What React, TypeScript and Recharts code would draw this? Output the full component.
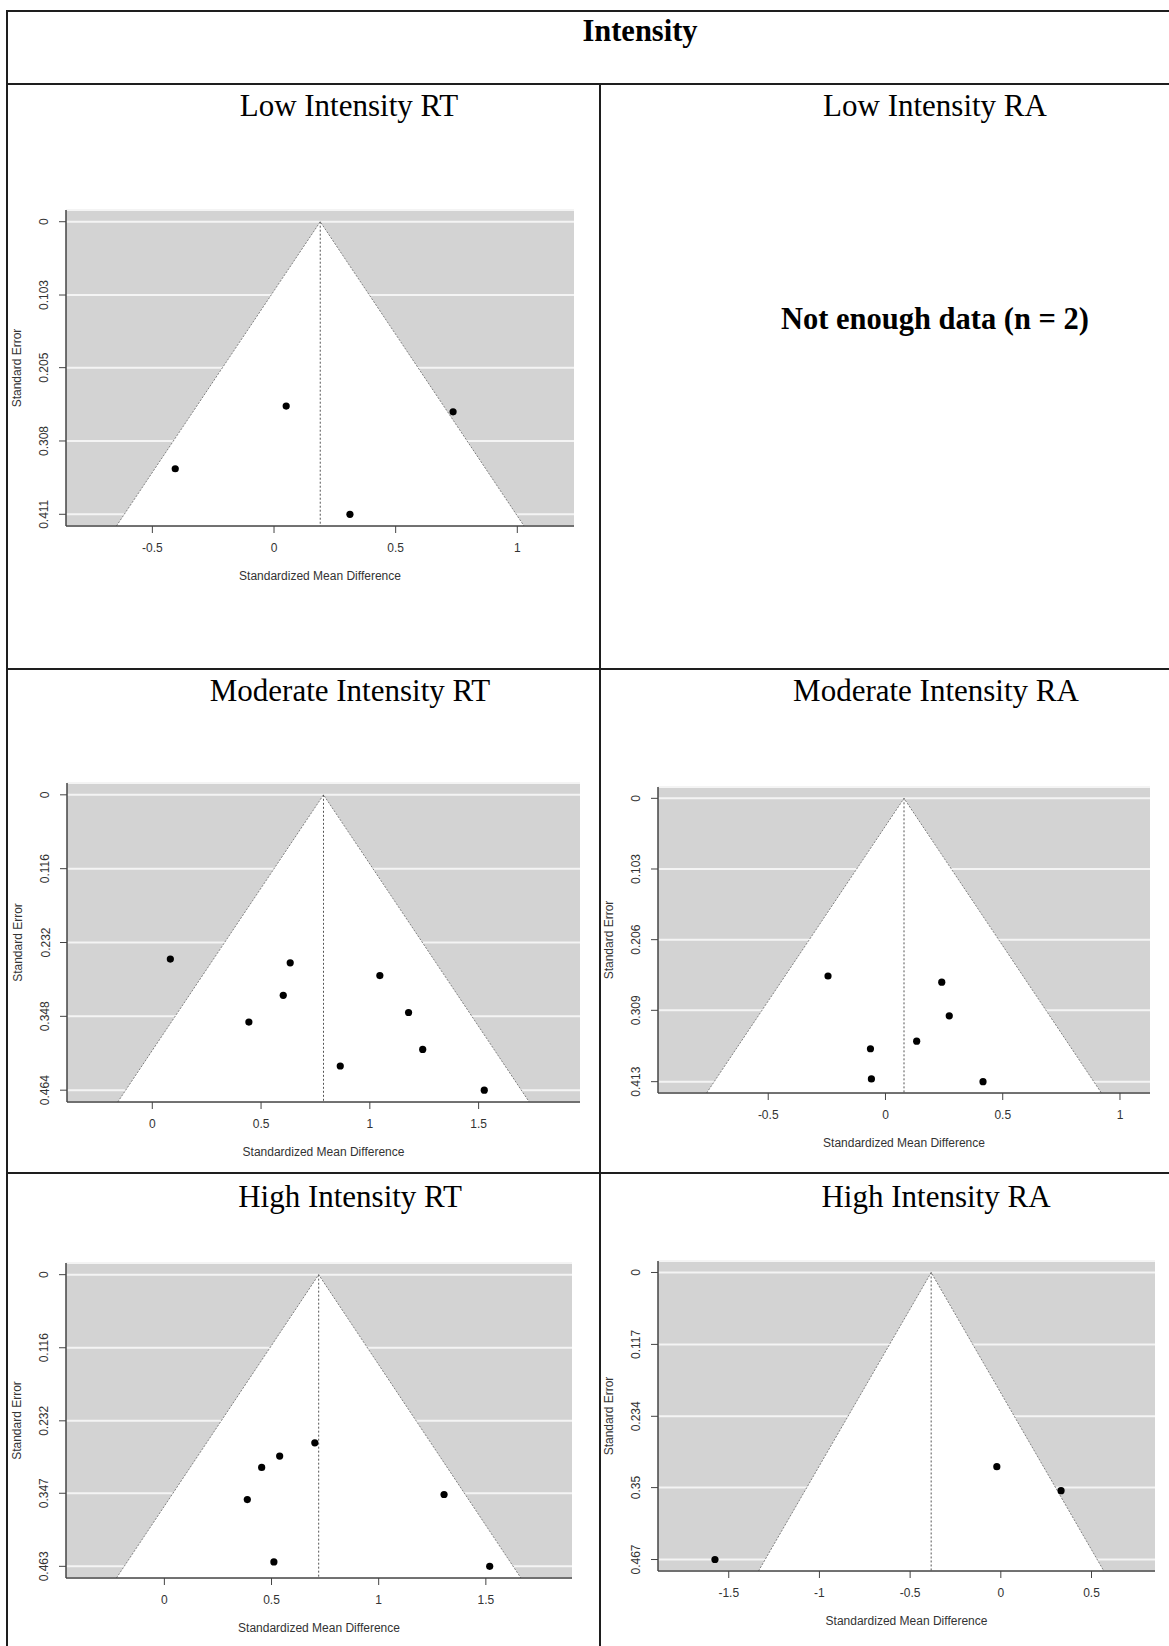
import React from 'react'
import { CartesianGrid, ReferenceArea, ReferenceLine, Scatter, ScatterChart, XAxis, YAxis } from 'recharts'

// Low Intensity RT
const lowRtSmd = [0.05, 0.736, -0.406, 0.312]
const lowRtSe = [0.259, 0.267, 0.347, 0.411]
const lowRtPooled = 0.19
const lowRtXTicks = [-0.5, 0, 0.5, 1]
const lowRtSeTicks = [0, 0.103, 0.205, 0.308, 0.411]
const lowRtXRange: [number, number] = [-0.855, 1.233]

// Moderate Intensity RT
const modRtSmd = [0.083, 0.634, 1.046, 0.602, 0.444, 1.178, 1.243, 0.864, 1.526]
const modRtSe = [0.258, 0.264, 0.284, 0.315, 0.357, 0.342, 0.4, 0.426, 0.464]
const modRtPooled = 0.787
const modRtXTicks = [0, 0.5, 1, 1.5]
const modRtSeTicks = [0, 0.116, 0.232, 0.348, 0.464]
const modRtXRange: [number, number] = [-0.392, 1.966]

// Moderate Intensity RA
const modRaSmd = [-0.245, 0.24, 0.272, 0.133, -0.064, -0.06, 0.416]
const modRaSe = [0.259, 0.268, 0.317, 0.354, 0.365, 0.409, 0.413]
const modRaPooled = 0.079
const modRaXTicks = [-0.5, 0, 0.5, 1]
const modRaSeTicks = [0, 0.103, 0.206, 0.309, 0.413]
const modRaXRange: [number, number] = [-0.97, 1.128]

// High Intensity RT
const highRtSmd = [0.702, 0.538, 0.454, 0.387, 1.305, 0.511, 1.518]
const highRtSe = [0.267, 0.288, 0.306, 0.357, 0.349, 0.456, 0.463]
const highRtPooled = 0.72
const highRtXTicks = [0, 0.5, 1, 1.5]
const highRtSeTicks = [0, 0.116, 0.232, 0.347, 0.463]
const highRtXRange: [number, number] = [-0.459, 1.902]

// High Intensity RA
const highRaSmd = [-1.576, -0.022, 0.332]
const highRaSe = [0.467, 0.316, 0.355]
const highRaPooled = -0.384
const highRaXTicks = [-1.5, -1, -0.5, 0, 0.5]
const highRaSeTicks = [0, 0.117, 0.234, 0.35, 0.467]
const highRaXRange: [number, number] = [-1.89, 0.85]

const Y_W = 60
const X_H = 70
const M_TOP = 8
const M_RIGHT = 4
const FS = 12
const PLOT_FONT = '"Liberation Sans", Arial, sans-serif'
const SERIF = '"Liberation Serif", "Times New Roman", serif'

// white pseudo-confidence region: apex at se = 0, base on the bottom of the plot
const FunnelShape = (props: any) => {
  const { x, y, width, height } = props
  const apex = x + width / 2
  return (
    <g>
      <path d={`M${x},${y + height} L${apex},${y} L${x + width},${y + height} Z`} fill="#fff" />
      <path d={`M${x},${y + height} L${apex},${y} L${x + width},${y + height}`} fill="none" stroke="#808080" strokeWidth={1} strokeDasharray="2 1.5" />
    </g>
  )
}

const Dot = (props: any) => <circle cx={props.cx} cy={props.cy} r={3.6} fill="#000" />

const SeTick = (props: any) => {
  const { x, y, payload } = props
  return (
    <text x={x} y={y} transform={`rotate(-90 ${x} ${y})`} textAnchor="middle" fill="#333" fontSize={FS}>
      {String(payload.value)}
    </text>
  )
}

type Box = { left: number; top: number; width: number; height: number }

const FunnelPlot = ({ smd, se, pooled, xTicks, seTicks, xRange, box }: {
  smd: number[]; se: number[]; pooled: number; xTicks: number[]; seTicks: number[]; xRange: [number, number]; box: Box
}) => {
  const points = smd.map((x, i) => ({ x, se: se[i] }))
  const seMax = seTicks[seTicks.length - 1]
  const yDomain: [number, number] = [-0.04 * seMax, 1.04 * seMax]
  const base = yDomain[1]
  return (
    <div style={{ position: 'absolute', left: box.left - Y_W, top: box.top - M_TOP, fontFamily: PLOT_FONT }}>
      <ScatterChart
        width={Y_W + box.width + M_RIGHT}
        height={M_TOP + box.height + X_H}
        margin={{ top: M_TOP, right: M_RIGHT, bottom: 0, left: 0 }}
      >
        <CartesianGrid vertical={false} fill="#d3d3d3" fillOpacity={1} stroke="#f4f4f4" strokeWidth={2} />
        <XAxis
          type="number"
          dataKey="x"
          domain={xRange}
          ticks={xTicks}
          interval={0}
          allowDataOverflow
          height={X_H}
          tickSize={7}
          tickMargin={10}
          tick={{ fill: '#333', fontSize: FS }}
          tickFormatter={(v: number) => String(v)}
          axisLine={{ stroke: '#444', strokeWidth: 1.5 }}
          tickLine={{ stroke: '#444' }}
          label={{ value: 'Standardized Mean Difference', position: 'insideBottom', offset: 16, fill: '#333', fontSize: FS }}
        />
        <YAxis
          type="number"
          dataKey="se"
          domain={yDomain}
          reversed
          ticks={seTicks}
          interval={0}
          allowDataOverflow
          width={Y_W}
          tickSize={7}
          tickMargin={10.5}
          tick={<SeTick />}
          axisLine={{ stroke: '#444', strokeWidth: 1.5 }}
          tickLine={{ stroke: '#444' }}
          label={{ value: 'Standard Error', angle: -90, position: 'insideLeft', offset: 11, fill: '#333', fontSize: FS, style: { textAnchor: 'middle' } }}
        />
        <ReferenceArea
          x1={pooled - 1.96 * base}
          x2={pooled + 1.96 * base}
          y1={0}
          y2={base}
          ifOverflow="visible"
          shape={FunnelShape}
        />
        <ReferenceLine
          segment={[{ x: pooled, y: 0 }, { x: pooled, y: base }]}
          stroke="#555"
          strokeDasharray="2 2"
          ifOverflow="visible"
        />
        <Scatter data={points} isAnimationActive={false} shape={Dot} />
      </ScatterChart>
    </div>
  )
}

const Rule = ({ left, top, width, height }: Box) => (
  <div style={{ position: 'absolute', left, top, width, height, background: '#1e1e1e' }} />
)

const Caption = ({ x, y, children, bold }: { x: number; y: number; children: React.ReactNode; bold?: boolean }) => (
  <div
    style={{
      position: 'absolute',
      left: x,
      top: y,
      transform: 'translate(-50%, -50%)',
      fontFamily: SERIF,
      fontSize: bold ? 30.5 : 31,
      lineHeight: 1,
      fontWeight: bold ? 'bold' : 'normal',
      whiteSpace: 'nowrap',
      color: '#000',
    }}
  >
    {children}
  </div>
)

const App = () => {
  return (
    <div style={{ position: 'absolute', left: 0, top: 0, width: 1169, height: 1646, background: '#fff', overflow: 'hidden' }}>
      {/* table frame */}
      <Rule left={6} top={10} width={1163} height={2} />
      <Rule left={6} top={10} width={2} height={1636} />
      <Rule left={6} top={83} width={1163} height={2} />
      <Rule left={6} top={668} width={1163} height={2} />
      <Rule left={6} top={1172} width={1163} height={2} />
      <Rule left={599} top={83} width={2} height={1563} />

      <Caption x={640} y={31} bold>Intensity</Caption>
      <Caption x={349} y={105}>Low Intensity RT</Caption>
      <Caption x={935} y={105}>Low Intensity RA</Caption>
      <Caption x={935} y={319} bold>Not enough data (n = 2)</Caption>
      <Caption x={350} y={690}>Moderate Intensity RT</Caption>
      <Caption x={936} y={690}>Moderate Intensity RA</Caption>
      <Caption x={350} y={1196}>High Intensity RT</Caption>
      <Caption x={936} y={1196}>High Intensity RA</Caption>

      <FunnelPlot smd={lowRtSmd} se={lowRtSe} pooled={lowRtPooled} xTicks={lowRtXTicks} seTicks={lowRtSeTicks} xRange={lowRtXRange}
        box={{ left: 66, top: 210, width: 508, height: 316 }} />
      <FunnelPlot smd={modRtSmd} se={modRtSe} pooled={modRtPooled} xTicks={modRtXTicks} seTicks={modRtSeTicks} xRange={modRtXRange}
        box={{ left: 67, top: 783, width: 513, height: 319 }} />
      <FunnelPlot smd={modRaSmd} se={modRaSe} pooled={modRaPooled} xTicks={modRaXTicks} seTicks={modRaSeTicks} xRange={modRaXRange}
        box={{ left: 658, top: 787, width: 492, height: 306 }} />
      <FunnelPlot smd={highRtSmd} se={highRtSe} pooled={highRtPooled} xTicks={highRtXTicks} seTicks={highRtSeTicks} xRange={highRtXRange}
        box={{ left: 66, top: 1263, width: 506, height: 315 }} />
      <FunnelPlot smd={highRaSmd} se={highRaSe} pooled={highRaPooled} xTicks={highRaXTicks} seTicks={highRaSeTicks} xRange={highRaXRange}
        box={{ left: 658, top: 1261, width: 497, height: 310 }} />
    </div>
  )
}

export default App
